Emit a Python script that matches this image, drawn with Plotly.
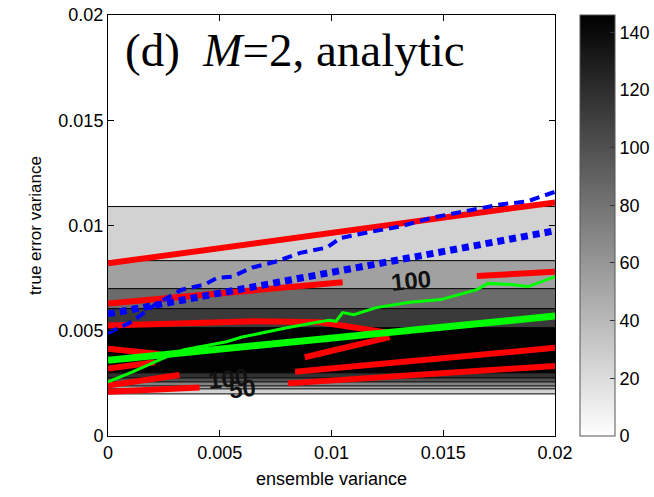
import plotly.graph_objects as go

# ---- data ----
band_edges = [0.0020, 0.00224, 0.00238, 0.00257, 0.00276, 0.0030, 0.00514, 0.00605, 0.0070, 0.00833, 0.0109]
band_vals = [26, 50, 72, 100, 118, 145, 113, 85, 54, 26]
x_span = [0.0, 0.02]

red_lines_x = [
    [0.0, 0.02],
    [0.0, 0.0105],
    [0.0165, 0.02],
    [0.0, 0.0066, 0.0095, 0.0126],
    [0.0088, 0.0126],
    [0.00837, 0.02],
    [0.00805, 0.02],
    [0.0, 0.0023],
    [0.0, 0.0021],
    [0.0, 0.0032],
    [0.0, 0.0041],
]
red_lines_y = [
    [0.0082, 0.0111],
    [0.0063, 0.0073],
    [0.0076, 0.0078],
    [0.00525, 0.00545, 0.0054, 0.0049],
    [0.00374, 0.0047],
    [0.00305, 0.00419],
    [0.0025, 0.00333],
    [0.00415, 0.0039],
    [0.0032, 0.0035],
    [0.0024, 0.0029],
    [0.0021, 0.0023],
]

green_fit_x = [0.0, 0.02]
green_fit_y = [0.0036, 0.0057]

green_obs_x = [0.0, 0.0011, 0.0023, 0.0034, 0.0046, 0.0053, 0.0060, 0.0069, 0.0080, 0.00935,
               0.0099, 0.0102, 0.0105, 0.0110, 0.0120, 0.0135, 0.0149, 0.0165, 0.0170,
               0.0180, 0.0188, 0.0200]
green_obs_y = [0.00257, 0.00305, 0.00362, 0.0041, 0.00433, 0.00448, 0.0047, 0.0049, 0.00514, 0.0054,
               0.0055, 0.00545, 0.00586, 0.00576, 0.0061, 0.00635, 0.00648, 0.00695, 0.00725,
               0.0072, 0.0071, 0.00757]

blue_fit_x = [0.0, 0.02]
blue_fit_y = [0.0058, 0.00975]

blue_obs_x = [0.0, 0.00107, 0.0021, 0.0033, 0.00434, 0.0049, 0.00555, 0.00644, 0.00756, 0.0086,
              0.0098, 0.01038, 0.0116, 0.01306, 0.01454, 0.01606, 0.01754, 0.01875, 0.0200]
blue_obs_y = [0.0049, 0.00543, 0.00624, 0.00695, 0.0072, 0.00752, 0.00757, 0.0080, 0.0083, 0.0087,
              0.00895, 0.0094, 0.00967, 0.00995, 0.01038, 0.01067, 0.0110, 0.01114, 0.0116]

contour_labels = ["100", "100", "50"]
contour_label_x = [0.01356, 0.00537, 0.00604]
contour_label_y = [0.00738, 0.00272, 0.00224]

tick_vals = [0, 0.005, 0.01, 0.015, 0.02]
tick_text = ["0", "0.005", "0.01", "0.015", "0.02"]
cbar_ticks = [0, 20, 40, 60, 80, 100, 120, 140]

# ---- figure ----
fig = go.Figure()

fig.add_trace(go.Heatmap(
    z=[[v] for v in band_vals], x=x_span, y=band_edges,
    zmin=0, zmax=146, colorscale=[[0, "white"], [1, "black"]],
    showscale=True,
    colorbar=dict(x=1.056, xanchor="left", xpad=0, ypad=0, y=0, yanchor="bottom", len=1,
                  lenmode="fraction", thickness=35, outlinecolor="#555", outlinewidth=1,
                  tickvals=cbar_ticks, ticks="inside", ticklen=5, tickcolor="#333",
                  tickfont=dict(family="Liberation Sans, Arial", size=18, color="black")),
    hoverinfo="skip",
))

# band edge lines
ex, ey = [], []
for e in band_edges:
    ex += [x_span[0], x_span[1], None]
    ey += [e, e, None]
fig.add_trace(go.Scatter(x=ex, y=ey, mode="lines", line=dict(color="black", width=1),
                         showlegend=False, hoverinfo="skip"))

for xs, ys in zip(red_lines_x, red_lines_y):
    fig.add_trace(go.Scatter(x=xs, y=ys, mode="lines", line=dict(color="#ff0000", width=6),
                             showlegend=False))

fig.add_trace(go.Scatter(x=green_fit_x, y=green_fit_y, mode="lines",
                         line=dict(color="#00ff00", width=7), showlegend=False))
fig.add_trace(go.Scatter(x=green_obs_x, y=green_obs_y, mode="lines",
                         line=dict(color="#00ff00", width=3), showlegend=False))
fig.add_trace(go.Scatter(x=blue_fit_x, y=blue_fit_y, mode="lines",
                         line=dict(color="#0000ff", width=7, dash="7px,5px"), showlegend=False))
fig.add_trace(go.Scatter(x=blue_obs_x, y=blue_obs_y, mode="lines",
                         line=dict(color="#0000ff", width=4, dash="10px,6px"), showlegend=False))

for t, lx, ly in zip(contour_labels, contour_label_x, contour_label_y):
    fig.add_annotation(x=lx, y=ly, text="<b>" + t + "</b>", showarrow=False, textangle=-6,
                       font=dict(family="Liberation Sans, Arial", size=24, color="#111"))

fig.add_annotation(xref="paper", yref="paper", x=0.033, y=0.918, xanchor="left", yanchor="middle",
                   text="(d)  <i>M</i>=2, analytic", showarrow=False,
                   font=dict(family="Liberation Serif, Times New Roman, serif", size=47, color="black"))

axis_common = dict(range=[0, 0.02], tickvals=tick_vals, ticktext=tick_text, ticks="inside",
                   ticklen=6, tickcolor="black", showline=True, linecolor="black", linewidth=1,
                   mirror="ticks", showgrid=False, zeroline=False, automargin=False,
                   tickfont=dict(family="Liberation Sans, Arial", size=18, color="black"))

fig.update_layout(
    width=654, height=497,
    margin=dict(l=108, r=99, t=15, b=61, autoexpand=False),
    plot_bgcolor="white", paper_bgcolor="white",
    showlegend=False,
    xaxis=dict(**axis_common, title=dict(text="ensemble variance", standoff=10,
               font=dict(family="Liberation Sans, Arial", size=18, color="black"))),
    yaxis=dict(**axis_common, title=dict(text="true error variance", standoff=12,
               font=dict(family="Liberation Sans, Arial", size=17, color="black"))),
)

fig.write_html("out.html", post_script="document.body.style.margin='0';",
               config={"displayModeBar": False})
